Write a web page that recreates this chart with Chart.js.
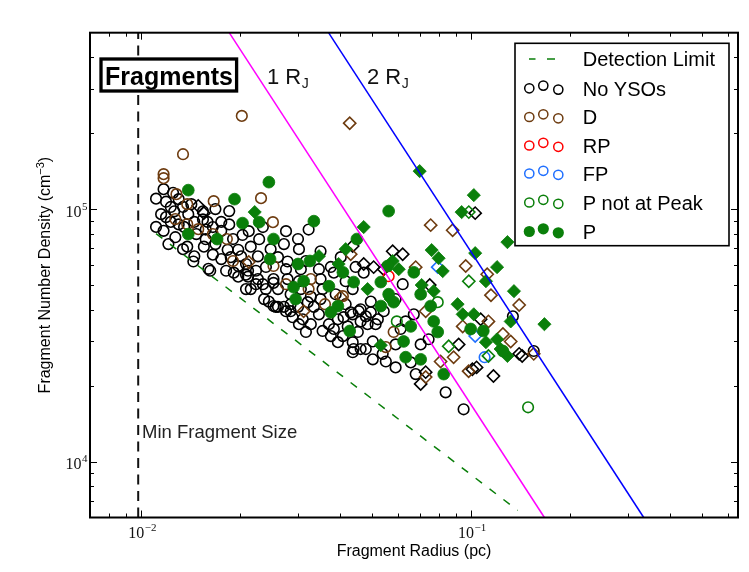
<!DOCTYPE html>
<html>
<head>
<meta charset="utf-8">
<script src="https://cdn.jsdelivr.net/npm/chart.js@4.4.1/dist/chart.umd.min.js"></script>
<style>
  html, body { margin: 0; padding: 0; background: #fff; }
  #wrap { width: 749px; height: 572px; }
</style>
</head>
<body>
<div id="wrap"><canvas id="grafico" width="749" height="572"></canvas></div>
<script>
// eixos (pc, cm^-3)
const xRange = [0.007, 0.645];
const yRange = [6000, 5e5];
const xMajorTicks = [0.01, 0.1];
const xTickExps = ['\u22122', '\u22121'];
const yMajorTicks = [1e4, 1e5];
const yTickExps = ['4', '5'];
const xMinorTicks = [0.008, 0.009, 0.02, 0.03, 0.04, 0.05, 0.06, 0.07, 0.08, 0.09, 0.2, 0.3, 0.4, 0.5, 0.6];
const yMinorTicks = [7000, 8000, 9000, 2e4, 3e4, 4e4, 5e4, 6e4, 7e4, 8e4, 9e4, 2e5, 3e5, 4e5];

// linhas de referencia [R, n]
const jeans1Line = [[0.0185, 5e5], [0.167, 6000]];
const jeans2Line = [[0.0370, 5e5], [0.334, 6000]];
const detectionLine = [[0.0111, 80000], [0.1386, 6400]];
const minSizeLine = [[0.0098, 6000], [0.0098, 5e5]];

// fragmentos [raio (pc), densidade (cm^-3)]
const noYsoCircles = [
  [0.0117,120000],[0.0125,116000],[0.0111,110000],[0.0119,107000],[0.0123,102000],[0.0126,98000],
  [0.0134,102000],[0.0154,98000],[0.0111,85000],[0.0117,82000],[0.0123,89000],[0.0130,87000],
  [0.0135,85000],[0.0145,89000],[0.0154,91000],[0.0159,89000],[0.0175,89000],[0.0185,87000],
  [0.0157,83000],[0.0175,82000],[0.0203,79000],[0.0157,76000],[0.0138,71000],[0.0155,71000],
  [0.0165,66000],[0.0145,65000],[0.0144,62000],[0.0160,58000],[0.0175,63400],[0.0183,69000],
  [0.0197,69000],[0.0201,65000],[0.0215,71000],[0.0226,65000],[0.0223,57000],[0.0239,59000],
  [0.0197,59500],[0.0208,55000],[0.0181,57000],[0.0211,54000],[0.0162,57000],[0.0191,56000],
  [0.0197,54000],[0.0215,48200],[0.0223,50400],[0.0236,44000],[0.0244,43000],[0.0252,51000],
  [0.0260,41000],[0.0226,52800],[0.0211,57000],[0.0322,83000],[0.0260,64500],[0.0278,62000],
  [0.0376,59000],[0.0384,56000],[0.0473,56000],[0.0252,52800],[0.0260,48200],[0.0278,52800],
  [0.0256,41000],[0.0271,41000],[0.0284,39400],[0.0327,45000],[0.0334,41000],[0.0432,39000],
  [0.0463,40100],[0.0497,43000],[0.0497,39000],[0.0275,39400],[0.0299,41000],[0.0309,36600],
  [0.0346,38300],[0.0371,35000],[0.0384,33500],[0.0411,37300],[0.0438,38300],[0.0463,35900],
  [0.0480,37600],[0.0454,32600],[0.0409,31400],[0.0438,29700],[0.0441,27900],[0.0438,27100],
  [0.0504,29900],[0.0540,26700],[0.0552,24900],[0.0591,23600],[0.0355,32900],[0.0327,35000],
  [0.0316,32600],[0.0395,29700],[0.0544,39400],[0.0838,18800],[0.0950,16100],[0.134,37600],
  [0.155,27400],[0.0657,24700],[0.0680,22200],[0.0744,30500],[0.0284,46000],[0.0305,48200],
  [0.0350,44000],[0.0389,46000],[0.0417,42000],[0.0301,35000],[0.0288,37300],[0.0239,48200],
  [0.0208,48200],[0.0228,76000],[0.0247,69400],[0.0271,72700],[0.0301,69400],[0.0316,62300],
  [0.0346,57800],[0.0417,51800],[0.0438,48200],[0.0591,44000],[0.0621,50400],[0.0671,38300],
  [0.0704,29100],[0.0591,29100],[0.0480,27900],[0.0504,25400],[0.0612,33500],[0.0514,35000],
  [0.0115,95500],[0.0130,109500],[0.0142,104600],[0.0168,100000],[0.0190,76100],[0.0147,79600],
  [0.0127,77400],[0.0121,72700],[0.0134,69400],[0.0168,72700],[0.0187,64500],[0.0234,84900],
  [0.0275,81800],[0.0299,76100],[0.0350,68100],[0.0403,64500],[0.0305,57800],[0.0350,52800],
  [0.0447,59000],[0.0634,35900],[0.0252,41300],[0.0284,42000],[0.0320,42800],[0.0395,36600],
  [0.0423,34300],[0.0457,39400],[0.0486,35000],[0.0522,36600],[0.0376,31400],[0.0463,27900],
  [0.0139,95500],[0.0165,84900],[0.0212,81800],[0.0185,98200],[0.0119,93000],[0.0208,60600],
  [0.0234,50400],[0.0275,57800],[0.0301,51800],[0.0355,48200]
];
const noYsoDiamonds = [
  [0.0149,103000],[0.0155,96400],[0.0438,71400],[0.0579,68100],[0.0473,60600],[0.0507,58900],
  [0.0544,57800],[0.103,96400],[0.0621,66300],[0.0750,50000],[0.0918,29100],[0.107,36600],
  [0.101,23200],[0.117,21800],[0.140,26700],[0.143,26200],[0.0729,22600],[0.0704,20300],[0.104,23600]
];
const dCircles = [
  [0.0202,234000],[0.0134,165000],[0.0117,137600],[0.0117,132600],[0.0128,114600],[0.0166,107500],
  [0.0231,110500],[0.0251,88800],[0.0127,91300],[0.0138,87200],[0.0149,83300],[0.0165,79600],
  [0.0182,76100],[0.0190,62300],[0.0252,59500],[0.0138,104600],[0.0275,50400],[0.0327,52800],
  [0.0322,48200],[0.0409,45200],[0.0361,42000],[0.0583,32600],[0.0552,28400]
];
const dDiamonds = [
  [0.0429,219000],[0.0212,61700],[0.0432,66300],[0.0403,44800],[0.0311,39400],[0.0755,86400],
  [0.0880,82500],[0.0964,59500],[0.112,55200],[0.0680,58900],[0.115,45600],[0.140,41700],
  [0.0944,34300],[0.132,29900],[0.0886,25900],[0.0984,22800],[0.155,26700],[0.125,32000],
  [0.113,35900],[0.0809,24900],[0.0729,39400],[0.0729,21600]
];
const rpCircles = [[0.0563,54200]];
const fpCircles = [[0.110,25900]];
const fpDiamonds = [[0.103,31400],[0.0793,58900]];
const pnpCircles = [[0.0596,35900],[0.0793,42800],[0.149,16400]];
const pnpDiamonds = [[0.0985,97300],[0.0985,51800],[0.0856,28600],[0.113,26200]];
const pCircles = [
  [0.0139,118900],[0.0192,109500],[0.0244,127900],[0.0203,88000],[0.0228,88800],[0.0139,79600],
  [0.0170,76100],[0.0252,76100],[0.0246,63400],[0.0563,98200],[0.0334,89600],[0.0451,76100],
  [0.0299,60600],[0.0325,62300],[0.0409,56200],[0.0311,51800],[0.0290,49100],[0.0371,49500],
  [0.0441,51400],[0.0533,51400],[0.0559,59500],[0.0294,44000],[0.0563,46000],[0.0533,41300],
  [0.0395,41300],[0.0376,39000],[0.0429,32900],[0.0583,42800],[0.0625,29900],[0.0634,25900],
  [0.0671,56200],[0.0704,46000],[0.0998,33500],[0.109,32900],[0.0771,35900],[0.0793,32600],
  [0.0657,34300],[0.0704,25400],[0.0827,22200],[0.125,27400],[0.0755,41300]
];
const pDiamonds = [
  [0.0221,97300],[0.0473,84900],[0.0417,69400],[0.0346,65100],[0.0397,60600],[0.0579,62300],
  [0.0604,57800],[0.0486,48200],[0.0571,44000],[0.0699,141400],[0.102,113600],[0.0937,97300],
  [0.129,74000],[0.0760,68800],[0.0798,63900],[0.103,66900],[0.0821,56800],[0.120,58900],
  [0.111,51800],[0.135,47300],[0.0709,50000],[0.0771,47300],[0.0911,42000],[0.0944,38300],
  [0.102,38300],[0.111,29700],[0.120,30500],[0.123,27900],[0.129,26200],[0.132,35900],
  [0.167,35000],[0.0533,28900]
];

const legendLabels = ['Detection Limit', 'No YSOs', 'D', 'RP', 'FP', 'P not at Peak', 'P'];

const PRETO = '#000000';
const MARROM = '#6e3c10';
const VERMELHO = '#ff0000';
const AZUL = '#1f6fff';
const VERDE = '#0a7f0a';
const SANS = '"Liberation Sans", Arial, sans-serif';
const SERIF = '"Liberation Serif", "DejaVu Serif", serif';

function pts(lista) {
  return lista.map(([r, n]) => ({ x: r, y: n }));
}

function linha(lista, cor, largura, tracejado) {
  return {
    data: pts(lista), showLine: true, borderColor: cor, borderWidth: largura,
    borderDash: tracejado || [], pointRadius: 0, fill: false, order: 0
  };
}

function abertos(lista, cor, estilo, ordem) {
  return {
    data: pts(lista), pointStyle: estilo, pointRadius: estilo === 'circle' ? 5.3 : 6.1,
    borderColor: cor, backgroundColor: 'rgba(0,0,0,0)', pointBorderWidth: 1.6, order: ordem
  };
}

function cheios(lista, cor, estilo, ordem) {
  return {
    data: pts(lista), pointStyle: estilo, pointRadius: estilo === 'circle' ? 5.9 : 6.6,
    borderColor: cor, backgroundColor: cor, pointBorderWidth: 0.8, order: ordem
  };
}

function desenharPotencia(ctx, base, exp, x, y, alinhar) {
  ctx.font = '16px ' + SERIF;
  const wb = ctx.measureText(base).width;
  ctx.font = '11px ' + SERIF;
  const we = ctx.measureText(exp).width;
  const esquerda = alinhar === 'center' ? x - (wb + we) / 2 : x - wb - we;
  ctx.textAlign = 'left';
  ctx.textBaseline = 'alphabetic';
  ctx.font = '16px ' + SERIF;
  ctx.fillText(base, esquerda, y);
  ctx.font = '11px ' + SERIF;
  ctx.fillText(exp, esquerda + wb + 0.5, y - 7);
}

function desenharLegenda(ctx) {
  const l = 515, t = 43.3, r = 729, b = 245.7;
  ctx.fillStyle = '#fff';
  ctx.fillRect(l, t, r - l, b - t);
  ctx.strokeStyle = '#000';
  ctx.lineWidth = 1.6;
  ctx.strokeRect(l, t, r - l, b - t);

  const linhasY = [59, 88.3, 117, 145.5, 173.5, 202.5, 231.5];
  const cores = [VERDE, PRETO, MARROM, VERMELHO, AZUL, VERDE, VERDE];
  const mx = [529.3, 543.3, 558.3];
  const my = [0, -2.7, 1.3];

  legendLabels.forEach((texto, i) => {
    const y = linhasY[i];
    ctx.strokeStyle = cores[i];
    ctx.fillStyle = cores[i];
    if (i === 0) {
      ctx.lineWidth = 1.5;
      ctx.beginPath();
      ctx.moveTo(529, y); ctx.lineTo(535.5, y);
      ctx.moveTo(547, y); ctx.lineTo(555, y);
      ctx.stroke();
    } else {
      mx.forEach((x, k) => {
        ctx.beginPath();
        if (i === 6) {
          ctx.arc(x, y + my[k], 5.6, 0, Math.PI * 2);
          ctx.fill();
        } else {
          ctx.lineWidth = 1.5;
          ctx.arc(x, y + my[k], 4.6, 0, Math.PI * 2);
          ctx.stroke();
        }
      });
    }
    ctx.fillStyle = '#000';
    ctx.font = '20px ' + SANS;
    ctx.textAlign = 'left';
    ctx.textBaseline = 'alphabetic';
    ctx.fillText(texto, 582.7, y + 7.2);
  });
}

const moldura = {
  id: 'moldura',
  beforeDraw(chart) {
    const ctx = chart.ctx;
    ctx.save();
    ctx.fillStyle = '#fff';
    ctx.fillRect(0, 0, chart.width, chart.height);
    ctx.restore();
  },
  afterDraw(chart) {
    const { ctx, chartArea: a, scales: { x, y } } = chart;
    ctx.save();

    // ticks para dentro nos quatro lados
    ctx.strokeStyle = '#000';
    ctx.lineWidth = 1;
    ctx.beginPath();
    const marcarX = (v, len) => {
      const px = Math.round(x.getPixelForValue(v)) + 0.5;
      ctx.moveTo(px, a.bottom); ctx.lineTo(px, a.bottom - len);
      ctx.moveTo(px, a.top); ctx.lineTo(px, a.top + len);
    };
    const marcarY = (v, len) => {
      const py = Math.round(y.getPixelForValue(v)) + 0.5;
      ctx.moveTo(a.left, py); ctx.lineTo(a.left + len, py);
      ctx.moveTo(a.right, py); ctx.lineTo(a.right - len, py);
    };
    xMinorTicks.forEach(v => marcarX(v, 4));
    xMajorTicks.forEach(v => marcarX(v, 7));
    yMinorTicks.forEach(v => marcarY(v, 4));
    yMajorTicks.forEach(v => marcarY(v, 7));
    ctx.stroke();

    ctx.lineWidth = 2;
    ctx.strokeRect(a.left, a.top, a.right - a.left, a.bottom - a.top);

    // rotulos dos ticks
    ctx.fillStyle = '#111';
    xMajorTicks.forEach((v, i) => desenharPotencia(ctx, '10', xTickExps[i], x.getPixelForValue(v) + 1, a.bottom + 20, 'center'));
    yMajorTicks.forEach((v, i) => desenharPotencia(ctx, '10', yTickExps[i], a.left - 3, y.getPixelForValue(v) + 7.5, 'right'));

    // titulos dos eixos
    ctx.fillStyle = '#000';
    ctx.font = '16px ' + SANS;
    ctx.textAlign = 'center';
    ctx.textBaseline = 'alphabetic';
    ctx.fillText('Fragment Radius (pc)', (a.left + a.right) / 2, 556);

    ctx.save();
    ctx.translate(50, (a.top + a.bottom) / 2);
    ctx.rotate(-Math.PI / 2);
    const t1 = 'Fragment Number Density (cm';
    const t2 = '\u22123';
    const t3 = ')';
    ctx.font = '16px ' + SANS;
    const w1 = ctx.measureText(t1).width, w3 = ctx.measureText(t3).width;
    ctx.font = '11px ' + SANS;
    const w2 = ctx.measureText(t2).width;
    let cx = -(w1 + w2 + w3) / 2;
    ctx.textAlign = 'left';
    ctx.font = '16px ' + SANS;
    ctx.fillText(t1, cx, 0);
    ctx.font = '11px ' + SANS;
    ctx.fillText(t2, cx + w1, -6);
    ctx.font = '16px ' + SANS;
    ctx.fillText(t3, cx + w1 + w2, 0);
    ctx.restore();

    // caixa "Fragments"
    ctx.fillStyle = '#fff';
    ctx.fillRect(101, 59, 135.6, 32);
    ctx.strokeStyle = '#000';
    ctx.lineWidth = 3.3;
    ctx.strokeRect(101, 59, 135.6, 32);
    ctx.fillStyle = '#000';
    ctx.font = 'bold 25px ' + SANS;
    ctx.textAlign = 'center';
    ctx.fillText('Fragments', 169, 84.5);

    // rotulos das linhas de Jeans
    const rotuloJ = (num, xx) => {
      ctx.font = '22px ' + SANS;
      ctx.textAlign = 'left';
      ctx.fillStyle = '#111';
      const s = num + ' R';
      ctx.fillText(s, xx, 84.3);
      const w = ctx.measureText(s).width;
      ctx.font = '14px ' + SANS;
      ctx.fillText('J', xx + w + 0.5, 88);
    };
    rotuloJ('1', 267);
    rotuloJ('2', 367);

    ctx.font = '18.5px ' + SANS;
    ctx.fillStyle = '#222';
    ctx.textAlign = 'left';
    ctx.fillText('Min Fragment Size', 142, 438.3);

    desenharLegenda(ctx);
    ctx.restore();
  }
};

new Chart(document.getElementById('grafico'), {
  type: 'scatter',
  data: {
    datasets: [
      linha(jeans1Line, '#ff00ff', 1.5),
      linha(jeans2Line, '#0000ff', 1.5),
      linha(detectionLine, VERDE, 1.5, [8, 9.5]),
      linha(minSizeLine, '#111', 2, [10, 6.5]),
      cheios(pCircles, VERDE, 'circle', 1),
      cheios(pDiamonds, VERDE, 'rectRot', 1),
      abertos(pnpCircles, VERDE, 'circle', 2),
      abertos(pnpDiamonds, VERDE, 'rectRot', 2),
      abertos(fpCircles, AZUL, 'circle', 3),
      abertos(fpDiamonds, AZUL, 'rectRot', 3),
      abertos(rpCircles, VERMELHO, 'circle', 4),
      abertos(dCircles, MARROM, 'circle', 5),
      abertos(dDiamonds, MARROM, 'rectRot', 5),
      abertos(noYsoCircles, PRETO, 'circle', 6),
      abertos(noYsoDiamonds, PRETO, 'rectRot', 6)
    ]
  },
  options: {
    responsive: false,
    animation: false,
    events: [],
    layout: { padding: { left: 90, top: 32.7, right: 11, bottom: 54.5 } },
    scales: {
      x: { type: 'logarithmic', min: xRange[0], max: xRange[1], display: false },
      y: { type: 'logarithmic', min: yRange[0], max: yRange[1], display: false }
    },
    plugins: { legend: { display: false }, tooltip: { enabled: false } }
  },
  plugins: [moldura]
});
</script>
</body>
</html>
